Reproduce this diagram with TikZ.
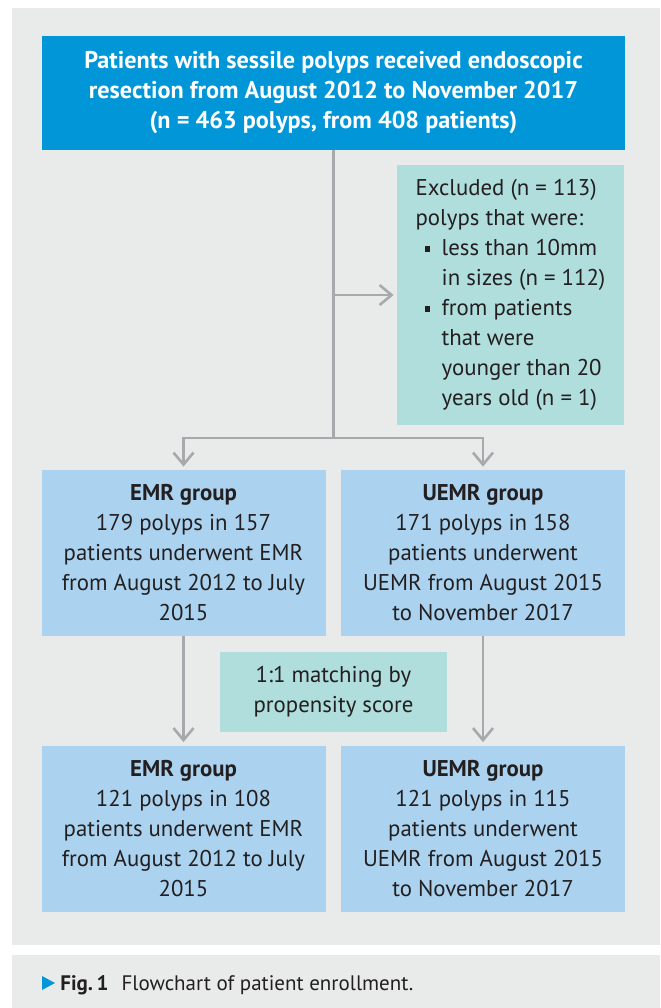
\documentclass[tikz,border=0pt]{standalone}
\usepackage{fontspec}
\setmainfont{PT Sans}
\usepackage{tikz}
\usetikzlibrary{arrows.meta}
\definecolor{topblue}{HTML}{0096D8}
\definecolor{groupblue}{HTML}{ABD3EF}
\definecolor{exclteal}{HTML}{B0DEDD}
\definecolor{panelgray}{HTML}{E9EBEB}
\definecolor{linegray}{HTML}{A7A9AC}
\definecolor{textdark}{HTML}{231F20}
\tikzset{boxtext/.style={font=\fontsize{11.4}{15}\selectfont, text=textdark, inner sep=0pt}}
\tikzset{topbox/.style={boxtext, rectangle, fill=topblue, text=white, font=\fontsize{12.1}{15}\selectfont\bfseries, align=center, minimum width=291.5pt, minimum height=57pt}}
\tikzset{groupbox/.style={boxtext, rectangle, fill=groupblue, align=center, minimum width=142pt, minimum height=83pt}}
\tikzset{notebox/.style={boxtext, rectangle, fill=exclteal, align=left, minimum width=113.5pt}}
\tikzset{greyline/.style={draw=linegray, line width=1.3pt}}
\tikzset{arrowline/.style={greyline, -{Straight Barb[length=6pt,width=10pt]}, shorten >=1.5pt}}
\newcommand{\bulitem}{\makebox[13pt][l]{\hspace{4.5pt}\rule[2pt]{2.6pt}{2.6pt}}}
\newcommand{\bulgap}{\hspace*{13pt}}

\begin{document}
\begin{tikzpicture}[x=0.5pt, y=-0.5pt]
    \useasboundingbox (0,0) rectangle (660,1008);
    \fill[panelgray] (12,8) rectangle (660,945);
    \fill[panelgray] (12,955) rectangle (660,1008);

    \node [topbox](source) at (333.5,93){Patients with sessile polyps received endoscopic\\resection from August 2012 to November 2017\\(n = 463 polyps, from 408 patients)};
    \node [notebox, minimum height=130pt](exclude) at (510.5,295){Excluded (n = 113)\\polyps that were:\\\bulitem less than 10mm\\\bulgap in sizes (n = 112)\\\bulitem from patients\\\bulgap that were\\\bulgap younger than 20\\\bulgap years old (n = 1)};
    \node [groupbox](emrall) at (183.5,553){\textbf{EMR group}\\179 polyps in 157\\patients underwent EMR\\from August 2012 to July\\2015};
    \node [groupbox](uemrall) at (483,553){\textbf{UEMR group}\\171 polyps in 158\\patients underwent\\UEMR from August 2015\\to November 2017};
    \node [notebox, align=center, minimum height=40pt](matching) at (333.5,692){1:1 matching by\\propensity score};
    \node [groupbox](emrmatched) at (183.5,828.5){\textbf{EMR group}\\121 polyps in 108\\patients underwent EMR\\from August 2012 to July\\2015};
    \node [groupbox](uemrmatched) at (483,828.5){\textbf{UEMR group}\\121 polyps in 115\\patients underwent\\UEMR from August 2015\\to November 2017};
    \coordinate (split) at (333.5,438);

    \draw[greyline] (source) -- (split);
    \draw[arrowline] (source.south |- exclude.west) -- (exclude);
    \draw[arrowline] (split) -| (emrall);
    \draw[arrowline] (split) -| (uemrall);
    \draw[arrowline] (emrall) -- (emrmatched);
    \draw[arrowline] (uemrall) -- (uemrmatched);

    % caption
    \fill[topblue] (42,976) -- (55,983) -- (42,990) -- cycle;
    \node [boxtext, font=\fontsize{10.5}{15}\selectfont, anchor=base west](caption) at (60,990){\textbf{Fig.\,1}\hspace{6.5pt}Flowchart of patient enrollment.};
\end{tikzpicture}
\end{document}
